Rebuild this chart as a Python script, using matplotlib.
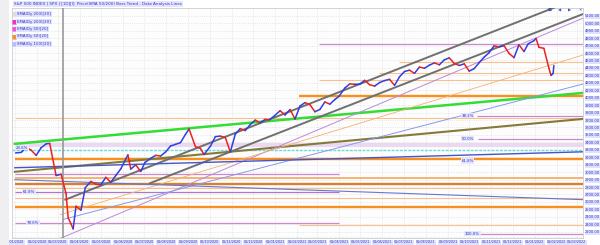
import matplotlib
matplotlib.use("Agg")
import matplotlib.pyplot as plt
import matplotlib.dates as mdates
from matplotlib.patches import Rectangle
import numpy as np
import pandas as pd

# ---------------- data ----------------
price_dates = ["2020-01-02","2020-01-10","2020-01-17","2020-01-24","2020-01-31","2020-02-07","2020-02-14","2020-02-19",
    "2020-02-28","2020-03-06","2020-03-13","2020-03-16","2020-03-20","2020-03-23","2020-03-27","2020-04-03","2020-04-09",
    "2020-04-17","2020-04-24","2020-05-01","2020-05-08","2020-05-15","2020-05-22","2020-05-29","2020-06-08","2020-06-12",
    "2020-06-19","2020-06-26","2020-07-02","2020-07-10","2020-07-17","2020-07-24","2020-07-31","2020-08-07","2020-08-14",
    "2020-08-21","2020-08-28","2020-09-02","2020-09-11","2020-09-18","2020-09-23","2020-10-02","2020-10-09","2020-10-16",
    "2020-10-23","2020-10-30","2020-11-06","2020-11-13","2020-11-20","2020-11-27","2020-12-04","2020-12-11","2020-12-18",
    "2020-12-24","2020-12-31",
    "2021-01-08","2021-01-15","2021-01-22","2021-01-29","2021-02-05","2021-02-12","2021-02-19","2021-02-26","2021-03-05",
    "2021-03-12","2021-03-19","2021-03-26","2021-04-01","2021-04-09","2021-04-16","2021-04-23","2021-04-30","2021-05-07",
    "2021-05-14","2021-05-21","2021-05-28","2021-06-04","2021-06-11","2021-06-18","2021-06-25","2021-07-02","2021-07-09",
    "2021-07-16","2021-07-23","2021-07-30","2021-08-06","2021-08-13","2021-08-20","2021-08-27","2021-09-03","2021-09-10",
    "2021-09-17","2021-09-24","2021-10-01","2021-10-08","2021-10-15","2021-10-22","2021-10-29","2021-11-05","2021-11-12",
    "2021-11-19","2021-11-26","2021-12-03","2021-12-10","2021-12-17","2021-12-23","2021-12-31",
    "2022-01-03","2022-01-07","2022-01-14","2022-01-21","2022-01-24","2022-01-27","2022-01-28"]
price_close = [3258,3265,3330,3295,3225,3328,3380,3386,
    2954,2972,2711,2386,2305,2237,2541,2489,2790,
    2875,2837,2831,2930,2864,2955,3044,3232,3041,
    3098,3009,3130,3185,3225,3216,3271,3351,3373,
    3397,3508,3580,3341,3319,3237,3348,3477,3484,
    3465,3270,3509,3585,3558,3638,3699,3663,3709,
    3703,3756,
    3825,3768,3841,3714,3887,3934,3907,3811,3842,
    3943,3913,3975,4020,4129,4185,4180,4181,4233,
    4174,4156,4204,4230,4247,4166,4281,4352,4370,
    4327,4412,4395,4437,4468,4442,4509,4535,4459,
    4433,4455,4357,4391,4471,4545,4605,4697,4683,
    4698,4595,4538,4712,4620,4725,4766,
    4796,4677,4663,4398,4300,4326,4432]

# horizontal support / resistance levels
level_price = [4720, 4479, 4332, 4238, 4024, 3756, 3729, 3447, 3367, 3179, 2978, 2925, 2844, 2791, 2737, 2657, 2536, 2322, 2295, 2174]
level_start = ["2021-03-04","2021-06-24","2021-05-27","2021-03-04","2021-02-04","2021-10-12","2020-01-01","2021-10-14",
               "2020-01-01","2020-01-01","2020-01-01","2020-01-01","2020-01-01","2020-01-01","2020-01-01","2020-01-01",
               "2020-01-01","2020-01-01","2021-02-04","2021-10-14"]
level_end = ["2022-03-10","2022-03-10","2022-03-10","2022-03-10","2022-03-10","2022-03-10","2022-03-10","2022-03-10",
             "2022-03-10","2022-03-10","2021-04-01","2022-03-10","2022-03-10","2022-03-10","2021-04-01","2022-03-10",
             "2022-03-10","2021-04-01","2022-03-10","2022-03-10"]
level_kind = ["pink","lorange","lorange","lorange","orange","pink","lorange","pink",
              "band","orange","pink","morange","dorange","lorange","purple","lorange",
              "orange","pink","lorange","pink"]

# trend lines (start date, start price, end date, end price)
trend_names = ["green", "olive", "chan_up", "chan_lo", "fan_purple", "fan_blue", "fan_orange", "blue_flat", "blue_down"]
trend_d0 = ["2020-01-01","2020-01-01","2020-03-12","2020-07-09","2020-03-01","2020-03-08","2020-03-05","2020-01-01","2020-01-01"]
trend_p0 = [3380, 3005, 2630, 2851, 2094, 2362, 2429, 3059, 2898]
trend_d1 = ["2022-03-10"] * 9
trend_p1 = [4064, 3715, 5362, 5124, 5069, 4184, 4573, 3273, 2630]

fib_labels = ["38.2%", "50.0%", "61.8%", "100.0%", "23.6%", "61.8%", "78.6%"]
fib_dates = ["2021-09-20", "2021-09-20", "2021-09-20", "2021-09-25", "2020-01-02", "2020-01-12", "2020-01-18"]
fib_prices = [3756, 3447, 3150, 2174, 3330, 2737, 2322]

legend_names = ["SMA(Dy 200)[20]", "EMA(Dy 200)[20]", "EMA(Dy 50)[20]", "SMA(Dy 50)[20]", "SMA(Dy 100)[20]"]
title_text = "S&P 500 INDEX | SPX | [1D][I]  Price(SMA 50/200) Bars Trend - Data Analysis Lines"
y_ticks = list(range(2200, 5200, 100))
cyan_levels = [3300, 2121]
vline_date = "2020-03-09"

# ---------------- styles ----------------
kind_style = {
    "pink":    dict(color="#cc88cc", lw=0.9, alpha=1.0),
    "purple":  dict(color="#aa77cc", lw=0.9, alpha=1.0),
    "lorange": dict(color="#f8c08c", lw=0.8, alpha=1.0),
    "morange": dict(color="#f5a050", lw=1.1, alpha=1.0),
    "orange":  dict(color="#f7901e", lw=1.7, alpha=1.0),
    "dorange": dict(color="#d98030", lw=1.7, alpha=1.0),
    "band":    dict(color="#e6d0ee", lw=3.0, alpha=0.8),
}
trend_style = {
    "green": dict(color="#33dd33", lw=1.8),
    "olive": dict(color="#857a3a", lw=1.5),
    "chan_up": dict(color="#707070", lw=1.4),
    "chan_lo": dict(color="#707070", lw=1.4),
    "fan_purple": dict(color="#bb88dd", lw=0.7),
    "fan_blue": dict(color="#8899ee", lw=0.7),
    "fan_orange": dict(color="#f5b070", lw=0.6),
    "blue_flat": dict(color="#4455cc", lw=1.0),
    "blue_down": dict(color="#6677cc", lw=0.8),
}

W, H = 600, 245
fig = plt.figure(figsize=(W / 100, H / 100), dpi=100)
fig.patch.set_facecolor("white")
fig.patches.append(Rectangle((0, 0), 9 / W, 1, transform=fig.transFigure, fc="#efeff2", ec="none", zorder=0))
ax = fig.add_axes([12 / W, 7 / H, 571 / W, 230 / H])
ax.set_facecolor("#fdfdfd")

d = pd.to_datetime(price_dates)
p = np.array(price_close, dtype=float)

# grid
ax.grid(True, which="major", axis="both", linestyle=":", color="#d8d8d8", lw=0.5)

for lv, s, e, k in zip(level_price, level_start, level_end, level_kind):
    st = kind_style[k]
    ax.plot(pd.to_datetime([s, e]), [lv, lv], color=st["color"], lw=st["lw"], alpha=st["alpha"],
            solid_capstyle="butt", zorder=2)

for cl in cyan_levels:
    ax.axhline(cl, color="#66dddd", lw=1.0, ls=(0, (2, 1)), zorder=2)

for n, d0, p0, d1, p1 in zip(trend_names, trend_d0, trend_p0, trend_d1, trend_p1):
    st = trend_style[n]
    ax.plot(pd.to_datetime([d0, d1]), [p0, p1], color=st["color"], lw=st["lw"], zorder=3)

ax.axvline(pd.to_datetime(vline_date), color="#999999", lw=1.2, zorder=3)

# price segments coloured by direction
for i in range(1, len(p)):
    col = "#2f3fe0" if p[i] >= p[i - 1] else "#ee2020"
    ax.plot(d[i - 1:i + 1], p[i - 1:i + 1], color=col, lw=1.1, zorder=5, solid_capstyle="round")

for lab, fd, fp in zip(fib_labels, fib_dates, fib_prices):
    ax.text(pd.to_datetime(fd), fp, lab, fontsize=2.8, color="#3333bb", va="center", ha="left", zorder=6,
            bbox=dict(boxstyle="square,pad=0.15", fc="#e4e6ff", ec="none"))

ax.set_xlim(pd.to_datetime("2019-12-28"), pd.to_datetime("2022-03-10"))
ax.set_ylim(2115, 5205)

ax.yaxis.tick_right()
ax.set_yticks(y_ticks)
ax.set_yticklabels([f"{v:.2f}" for v in y_ticks])
ax.tick_params(axis="y", labelsize=2.6, colors="#3333bb", length=0, pad=1.5)
for t in ax.get_yticklabels():
    t.set_bbox(dict(boxstyle="square,pad=0.15", fc="#dfe2ff", ec="none"))

ax.xaxis.set_major_locator(mdates.MonthLocator())
ax.xaxis.set_major_formatter(mdates.DateFormatter("%d/%m/%Y"))
ax.tick_params(axis="x", labelsize=2.4, colors="#3333bb", length=0, pad=1.5)
for t in ax.get_xticklabels():
    t.set_bbox(dict(boxstyle="square,pad=0.15", fc="#dfe2ff", ec="none"))

for sp in ax.spines.values():
    sp.set_color("#cccccc")
    sp.set_linewidth(0.6)

# legend / header
fig.text(14 / W, 1 - 4 / H, title_text, fontsize=3, color="#3333bb", va="center", ha="left",
         bbox=dict(boxstyle="square,pad=0.2", fc="#e4e6ff", ec="none"))
leg_cols = ["#dddddd", "#ee33cc", "#ee55dd", "#f79030", "#bbbbff"]
for i, (nm, c) in enumerate(zip(legend_names, leg_cols)):
    yy = 1 - (14 + i * 7.5) / H
    fig.text(12 / W, yy, "\u25A0", fontsize=4, color=c, va="center", ha="left")
    fig.text(17 / W, yy, nm, fontsize=2.8, color="#3333bb", va="center", ha="left",
             bbox=dict(boxstyle="square,pad=0.2", fc="#dfe2ff", ec="none"))
for i, s in enumerate(["\u25A0", "\u25C0", "\u25B6", "\u2715"]):
    fig.text((550 + i * 10) / W, 1 - 10 / H, s, fontsize=3, color="#4455bb", va="center", ha="center")

fig.savefig("out.png", dpi=100)
